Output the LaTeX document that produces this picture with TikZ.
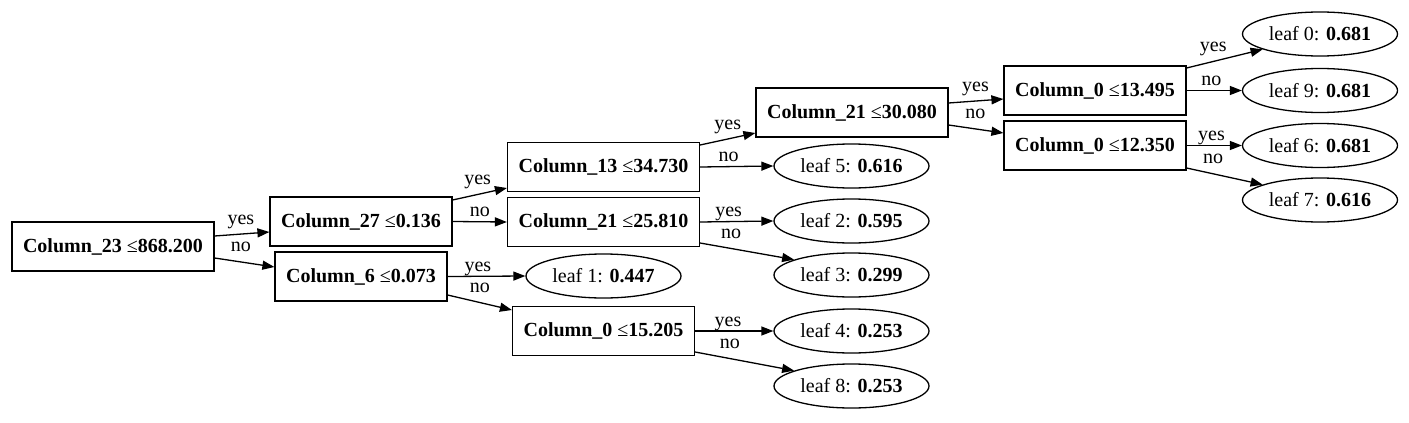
\documentclass[tikz,border=0pt]{standalone}
\usepackage{fontspec}
\setmainfont{Liberation Serif}
\usetikzlibrary{shapes.geometric,arrows.meta}

\begin{document}
\begin{tikzpicture}[x=1pt,y=-1pt,
    split/.style={draw,rectangle,line width=1.3pt,minimum height=49pt,inner xsep=11pt,font=\fontsize{20}{23}\selectfont},
    leaf/.style={draw,ellipse,line width=1.3pt,minimum width=155pt,minimum height=44pt,inner sep=0pt,font=\fontsize{20}{23}\selectfont},
    edge/.style={line width=1.3pt,-{Triangle[length=12pt,width=9pt]}},
    lbl/.style={anchor=base,yshift=5pt,inner sep=0pt,font=\fontsize{20}{23}\selectfont},
    lbls/.style={anchor=base,yshift=10pt,inner sep=0pt,font=\fontsize{20}{23}\selectfont}]
                \useasboundingbox (0,0) rectangle (1409,423);

                \node[split] (root) at (113,246.5) {\textbf{Column\_23} ≤\textbf{868.200}};
                \node[split] (c27) at (361,221.5) {\textbf{Column\_27} ≤\textbf{0.136}};
                \node[split] (c6) at (361,276.5) {\textbf{Column\_6} ≤\textbf{0.073}};
                \node[split] (c13) at (603.5,167) {\textbf{Column\_13} ≤\textbf{34.730}};
                \node[split] (c21a) at (603.5,222) {\textbf{Column\_21} ≤\textbf{25.810}};
                \node[split] (c0c) at (603.5,331) {\textbf{Column\_0} ≤\textbf{15.205}};
                \node[split] (c21b) at (852,112.5) {\textbf{Column\_21} ≤\textbf{30.080}};
                \node[split] (c0a) at (1095,90.5) {\textbf{Column\_0} ≤\textbf{13.495}};
                \node[split] (c0b) at (1095,145.5) {\textbf{Column\_0} ≤\textbf{12.350}};

                \node[leaf] (leaf1) at (603.5,276) {leaf 1: \textbf{0.447}};
                \node[leaf] (leaf5) at (851.5,166) {leaf 5: \textbf{0.616}};
                \node[leaf] (leaf2) at (851.5,221) {leaf 2: \textbf{0.595}};
                \node[leaf] (leaf3) at (851.5,275) {leaf 3: \textbf{0.299}};
                \node[leaf] (leaf4) at (851.5,331) {leaf 4: \textbf{0.253}};
                \node[leaf] (leaf8) at (851.5,386) {leaf 8: \textbf{0.253}};
                \node[leaf] (leaf0) at (1320,34) {leaf 0: \textbf{0.681}};
                \node[leaf] (leaf9) at (1320,90.5) {leaf 9: \textbf{0.681}};
                \node[leaf] (leaf6) at (1320,145.5) {leaf 6: \textbf{0.681}};
                \node[leaf] (leaf7) at (1320,200) {leaf 7: \textbf{0.616}};

                \draw[edge] ([yshift=10.5pt]root.east) -- node[lbls,pos=.48] {yes} ([yshift=-10.5pt]c27.west);
                \draw[edge] ([yshift=-11.5pt]root.east) -- node[lbls,pos=.44] {no} ([yshift=9.5pt]c6.west);
                \draw[edge] ([yshift=21.5pt]c27.east) -- node[lbls,pos=.46] {yes} ([yshift=-21pt]c13.west);
                \draw[edge] (c27.east) -- node[lbl,pos=.5] {no} (c21a.west);
                \draw[edge] (c6.east) -- node[lbl,pos=.39] {yes} (leaf1.west);
                \draw[edge] ([yshift=-18.5pt]c6.east) -- node[lbls,pos=.5] {no} ([yshift=21pt]c0c.west);
                \draw[edge] ([yshift=22pt]c13.east) -- node[lbls,pos=.5] {yes} ([yshift=-20.5pt]c21b.west);
                \draw[edge] (c13.east) -- node[lbl,pos=.39] {no} (leaf5.west);
                \draw[edge] (c21a.east) -- node[lbl,pos=.39] {yes} (leaf2.west);
                \draw[edge] ([yshift=-21pt]c21a.east) -- node[lbls,pos=.33] {no} (leaf3.165);
                \draw[edge] (c0c.east) -- node[lbl,pos=.42] {yes} (leaf4.west);
                \draw[edge] ([yshift=-21pt]c0c.east) -- node[lbls,pos=.35] {no} (leaf8.165);
                \draw[edge] ([yshift=9.5pt]c21b.east) -- node[lbls,pos=.49] {yes} ([yshift=-8.5pt]c0a.west);
                \draw[edge] ([yshift=-12.5pt]c21b.east) -- node[lbls,pos=.49] {no} ([yshift=12.5pt]c0b.west);
                \draw[edge] ([yshift=22.5pt]c0a.east) -- node[lbls,pos=.35] {yes} (leaf0.195);
                \draw[edge] (c0a.east) -- node[lbl,pos=.45] {no} (leaf9.west);
                \draw[edge] (c0b.east) -- node[lbl,pos=.45] {yes} (leaf6.west);
                \draw[edge] ([yshift=-22.5pt]c0b.east) -- node[lbls,pos=.35] {no} (leaf7.165);
\end{tikzpicture}
\end{document}
